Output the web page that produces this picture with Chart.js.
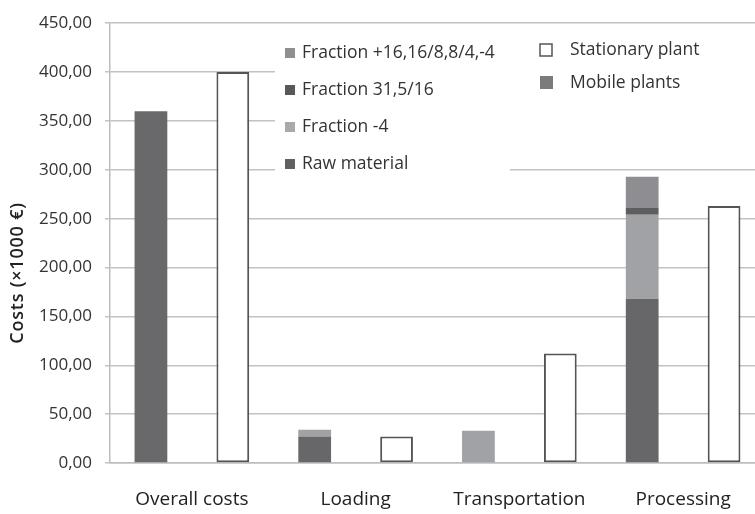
<!DOCTYPE html>
<html>
<head>
<meta charset="utf-8">
<script src="https://cdn.jsdelivr.net/npm/chart.js@4/dist/chart.umd.min.js"></script>
<style>
html, body { margin: 0; padding: 0; background: #fff; overflow: hidden; }
#wrap { width: 765px; height: 514px; }
</style>
</head>
<body>
<div id="wrap"><canvas id="chart"></canvas></div>
<script>
// categories and values (x1000 €)
var categories = ['Overall costs', 'Loading', 'Transportation', 'Processing'];
var rawMaterial = [null, 27, null, 168];
var fractionMinus4 = [null, 7, 33, 86];
var fraction315 = [null, null, null, 7];
var fraction16 = [null, null, null, 32];
var mobilePlants = [360, null, null, null];
var stationaryPlant = [400, 27, 112, 263];
var yTicks = [0, 50, 100, 150, 200, 250, 300, 350, 400, 450];

Chart.defaults.font.family = "'Open Sans', sans-serif";
Chart.defaults.color = '#333';

function fmt(v) {
    return v.toFixed(2).replace('.', ',');
}

// legend boxes sit over the gridlines, like in the original
var overlayLegend = {
    id: 'overlayLegend',
    beforeDatasetsDraw: function (chart) {
        var c = chart.ctx;
        var ds = chart.data.datasets;
        c.save();
        c.fillStyle = '#fff';
        c.fillRect(275, 24, 490, 133);
        c.fillRect(275, 157, 235, 22);

        c.font = "17.5px 'Open Sans', sans-serif";
        c.textBaseline = 'middle';
        c.textAlign = 'left';

        var left = [ds[3], ds[2], ds[1], ds[0]];
        left.forEach(function (d, i) {
            var y = 53 + i * 37;
            c.fillStyle = d.legendColor || d.backgroundColor;
            c.fillRect(285, y - 5, 10, 10);
            c.fillStyle = '#333';
            c.fillText(d.label, 302, y);
        });

        var right = [ds[5], ds[4]];
        right.forEach(function (d, i) {
            var y = 50 + i * 33;
            if (d.label === 'Stationary plant') {
                c.fillStyle = '#fff';
                c.fillRect(540, y - 6, 12, 12);
                c.strokeStyle = '#555';
                c.lineWidth = 1.5;
                c.strokeRect(540, y - 6, 12, 12);
            } else {
                c.fillStyle = d.legendColor || d.backgroundColor;
                c.fillRect(540, y - 7, 13, 13);
            }
            c.fillStyle = '#333';
            c.fillText(d.label, 570, y);
        });

        // y axis title
        c.translate(18, 273);
        c.rotate(-Math.PI / 2);
        c.textAlign = 'center';
        c.font = "600 18px 'Open Sans', sans-serif";
        c.letterSpacing = '0.8px';
        c.fillStyle = '#222';
        c.fillText('Costs (×1000 €)', 0, 0);
        c.restore();
    }
};

var ctx = document.getElementById('chart').getContext('2d');

var chart = new Chart(ctx, {
    type: 'bar',
    data: {
        labels: categories,
        datasets: [
            { label: 'Raw material', data: rawMaterial, stack: 'mobile', backgroundColor: '#67676a', legendColor: '#606063' },
            { label: 'Fraction -4', data: fractionMinus4, stack: 'mobile', backgroundColor: '#a1a2a5', legendColor: '#a9a9ab' },
            { label: 'Fraction 31,5/16', data: fraction315, stack: 'mobile', backgroundColor: '#5e5e61', legendColor: '#58585b' },
            { label: 'Fraction +16,16/8,8/4,-4', data: fraction16, stack: 'mobile', backgroundColor: '#8e8e92', legendColor: '#8f8f92' },
            { label: 'Mobile plants', data: mobilePlants, stack: 'mobile', backgroundColor: '#69696c', legendColor: '#7b7b7e' },
            { label: 'Stationary plant', data: stationaryPlant, stack: 'stationary', backgroundColor: '#ffffff', borderColor: '#555', borderWidth: 2, borderSkipped: false }
        ]
    },
    options: {
        responsive: true,
        maintainAspectRatio: false,
        animation: false,
        layout: { padding: { top: 17, right: 0, bottom: 0, left: 0 } },
        datasets: {
            bar: { categoryPercentage: 1, barPercentage: 0.4 }
        },
        plugins: {
            legend: { display: false },
            tooltip: { enabled: false }
        },
        scales: {
            x: {
                stacked: true,
                grid: { display: false },
                border: { color: '#bdbdbd', width: 1.5 },
                ticks: { font: { size: 19 }, padding: 17, color: '#222' },
                afterFit: function (s) { s.height = 51; }
            },
            y: {
                stacked: true,
                min: 0,
                max: 450,
                afterBuildTicks: function (s) {
                    s.ticks = yTicks.map(function (v) { return { value: v }; });
                },
                ticks: {
                    callback: function (v) { return fmt(v); },
                    font: { size: 17 },
                    padding: 13,
                    color: '#333'
                },
                grid: { color: '#c2c2c2', lineWidth: 1.5, tickLength: 5 },
                border: { color: '#bdbdbd', width: 1.5 },
                afterFit: function (s) { s.width = 110; }
            }
        }
    },
    plugins: [overlayLegend]
});
</script>
</body>
</html>
